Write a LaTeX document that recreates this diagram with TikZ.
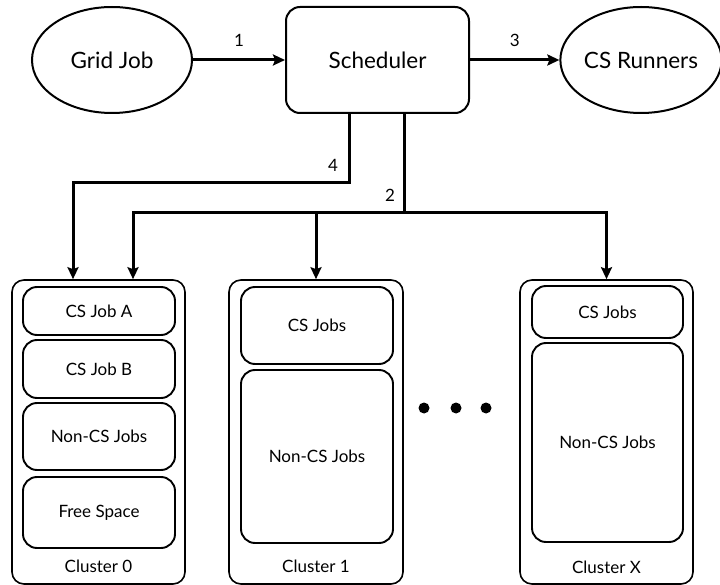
\documentclass[tikz,border=0pt]{standalone}
\usepackage{fontspec}
\setmainfont{Lato}
\usetikzlibrary{shapes.geometric,arrows.meta,calc}

\tikzset{
  outer/.style={draw, line width=2pt, inner sep=0pt},
  bigtext/.style={font=\fontsize{22.5}{26}\selectfont},
  ovalnode/.style={outer, ellipse, bigtext},
  schedbox/.style={outer, rectangle, rounded corners=14pt, bigtext},
  clusterbox/.style={draw, line width=1.6pt, rectangle, rounded corners=12pt,
    minimum width=173pt, minimum height=304pt, inner sep=0pt},
  jobbox/.style={draw, line width=1.9pt, rectangle, rounded corners=14pt,
    inner sep=0pt, font=\fontsize{17}{20}\selectfont},
  caption/.style={font=\fontsize{17}{20}\selectfont, inner sep=0pt},
  numlabel/.style={font=\fontsize{17}{20}\selectfont, inner sep=0pt},
  wire/.style={line width=3pt},
  arrowwire/.style={wire, -{Stealth[length=12pt,width=11pt,inset=2pt]}},
  dot/.style={circle, fill=black, inner sep=0pt, minimum size=11pt}
}

\begin{document}
\begin{tikzpicture}[x=1pt, y=-1pt]
\useasboundingbox (0,0) rectangle (720,585);

% top row
\node[ovalnode, minimum width=160pt, minimum height=106pt] (grid) at (112,60) {Grid Job};
\node[schedbox, minimum width=183pt, minimum height=106pt] (sched) at (377.5,60) {Scheduler};
\node[ovalnode, minimum width=148pt, minimum height=106pt] (runners) at (641,60) {CS Runners};

% clusters
\node[clusterbox] (c0) at (98.5,432) {};
\node[clusterbox, minimum width=174pt] (c1) at (316,432) {};
\node[clusterbox] (cX) at (606.5,432) {};

% cluster 0 contents
\node[jobbox, minimum width=152pt, minimum height=48pt] (c0a) at (99,311) {CS Job A};
\node[jobbox, minimum width=152pt, minimum height=58pt] (c0b) at (99,369) {CS Job B};
\node[jobbox, minimum width=152pt, minimum height=67pt] (c0n) at (99,436.5) {Non-CS Jobs};
\node[jobbox, minimum width=152pt, minimum height=71pt] (c0f) at (99,512.5) {Free Space};
\node[caption] (c0l) at (98.5,566) {Cluster 0};

% cluster 1 contents
\node[jobbox, minimum width=152pt, minimum height=77pt] (c1j) at (317,325.5) {CS Jobs};
\node[jobbox, minimum width=152pt, minimum height=173pt] (c1n) at (317,456.5) {Non-CS Jobs};
\node[caption] (c1l) at (316,566) {Cluster 1};

% cluster X contents
\node[jobbox, minimum width=151pt, minimum height=52pt] (cXj) at (607.5,312) {CS Jobs};
\node[jobbox, minimum width=151pt, minimum height=199pt] (cXn) at (607.5,442.5) {Non-CS Jobs};
\node[caption] (cXl) at (606.5,567) {Cluster X};

% ellipsis between clusters
\node[dot] (d1) at (424,408) {};
\node[dot] (d2) at (456,408) {};
\node[dot] (d3) at (486,408) {};

% connectors
\draw[arrowwire] (grid) -- (sched) node[numlabel, midway, above=12pt] (n1) {1};
\draw[arrowwire] (sched) -- (runners) node[numlabel, midway, above=12pt] (n3) {3};

\coordinate (j4) at (349,183);
\coordinate (t4) at (73,0);
\draw[arrowwire] (sched.south -| j4) -- (j4) -| (c0.north -| t4);
\node[numlabel] (n4) at (333,165) {4};

\coordinate (j2) at (404,213);
\coordinate (t2) at (133,0);
\draw[wire] (sched.south -| j2) -- (j2);
\draw[arrowwire] (j2) -| (c0.north -| t2);
\draw[arrowwire] (j2) -| (cX.north);
\draw[arrowwire] (c1.north |- j2) -- (c1.north);
\node[numlabel] (n2) at (390,195) {2};
\end{tikzpicture}
\end{document}
